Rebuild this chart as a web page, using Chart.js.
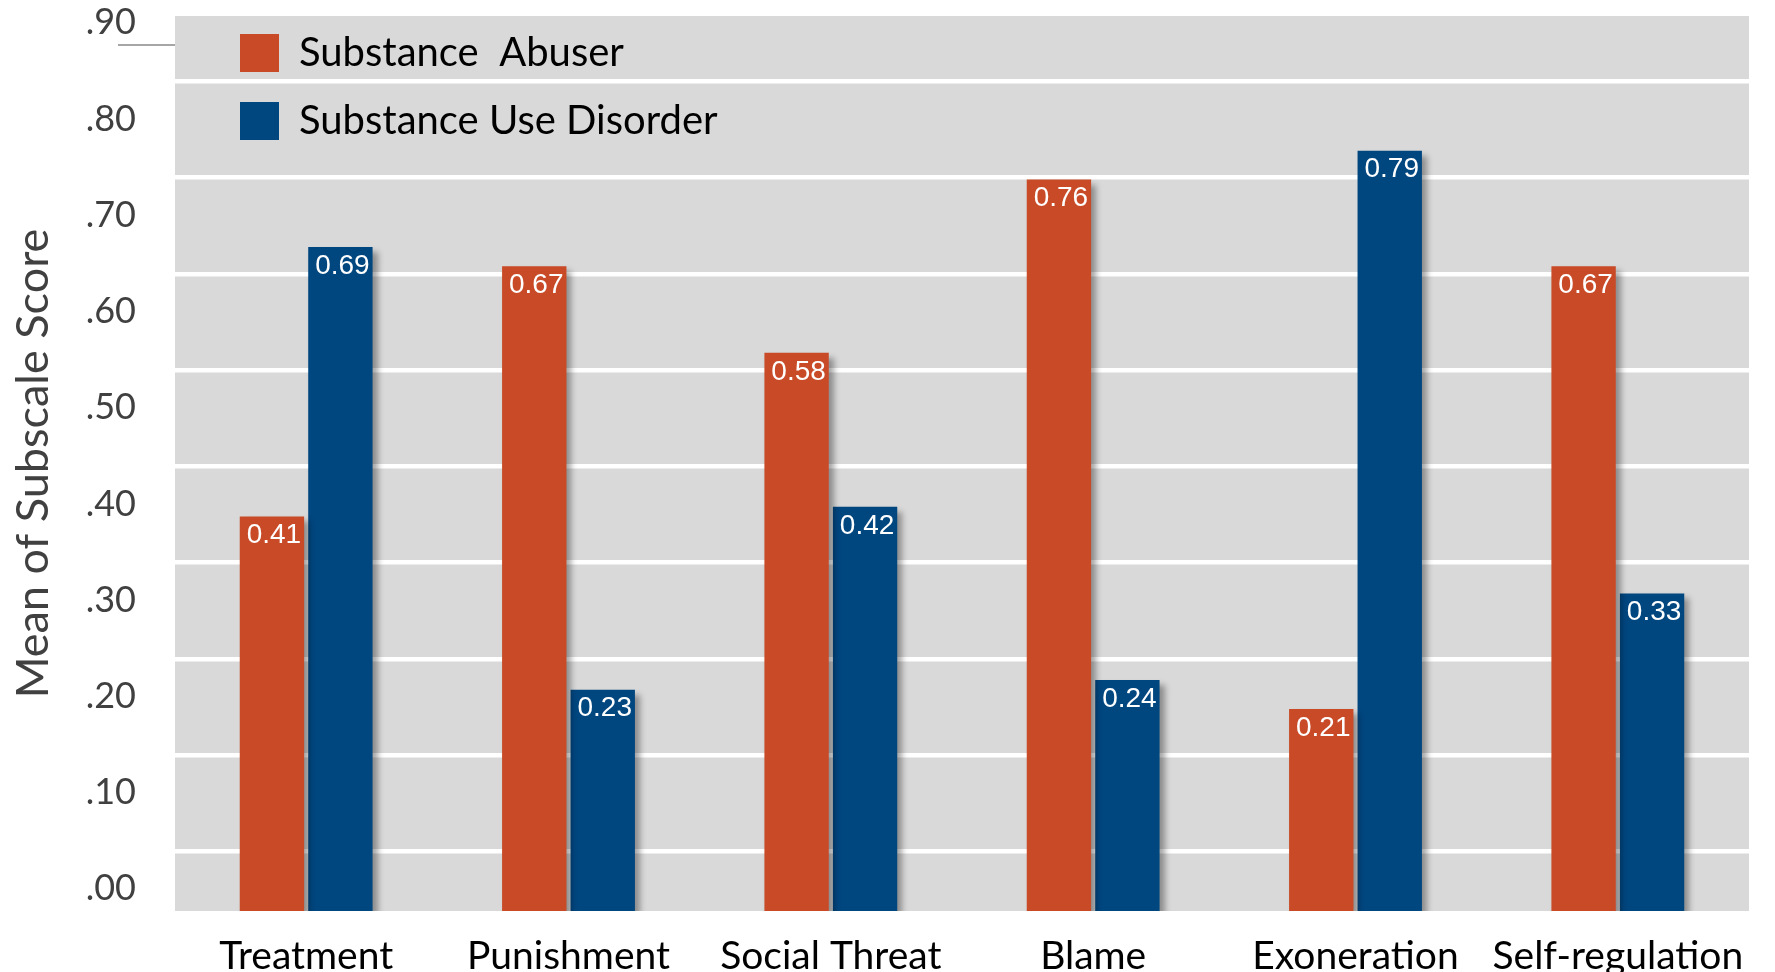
<!DOCTYPE html>
<html>
<head>
<meta charset="utf-8">
<script src="https://cdn.jsdelivr.net/npm/chart.js@4.4.1/dist/chart.umd.min.js"></script>
<style>
html, body { margin: 0; padding: 0; background: #fff; }
#wrap { width: 1775px; height: 972px; }
</style>
</head>
<body>
<div id="wrap"><canvas id="subscale-chart"></canvas></div>
<script>
const categories = [`Treatment`, `Punishment`, `Social Threat`, `Blame`, `Exoneration`, `Self-regulation`]
const abuser_values = [0.41, 0.67, 0.58, 0.76, 0.21, 0.67]
const disorder_values = [0.69, 0.23, 0.42, 0.24, 0.79, 0.33]
const tick_values = [0, 0.1, 0.2, 0.3, 0.4, 0.5, 0.6, 0.7, 0.8, 0.9]
const tick_labels = [`.00`, `.10`, `.20`, `.30`, `.40`, `.50`, `.60`, `.70`, `.80`, `.90`]
const grid_values = [0, 0.1, 0.2, 0.3, 0.4, 0.5, 0.6, 0.7, 0.8]
const top_mark = [0.9]

// the source picture has its labels and white lines shifted up from the bar scale
const y_max = 0.93
const label_shift = 0.023
const grid_shift = 0.062

Chart.defaults.font.family = `Lato, "Open Sans", sans-serif`

const plot_background = {
    id: `plotBackground`,
    beforeDraw: (chart) => {
        const { ctx, chartArea } = chart
        ctx.save()
        ctx.fillStyle = `#d9d9d9`
        ctx.fillRect(chartArea.left, chartArea.top, chartArea.right - chartArea.left, chartArea.bottom - chartArea.top)
        ctx.restore()
    }
}

// put the legend inside the plot, a little in from the corner
const legend_nudge = {
    id: `legendNudge`,
    afterLayout: (chart) => {
        chart.legend.left = chart.chartArea.left + 37
        chart.legend.top = chart.chartArea.top - 11
    }
}

const bar_shadow = {
    id: `barShadow`,
    beforeDatasetsDraw: (chart) => {
        const ctx = chart.ctx
        ctx.save()
        ctx.shadowColor = `rgba(0, 0, 0, 0.35)`
        ctx.shadowOffsetX = 5
        ctx.shadowOffsetY = 5
        ctx.shadowBlur = 6
    },
    afterDatasetsDraw: (chart) => {
        chart.ctx.restore()
    }
}

const bar_labels = {
    id: `barLabels`,
    afterDatasetsDraw: (chart) => {
        const ctx = chart.ctx
        ctx.save()
        ctx.fillStyle = `#ffffff`
        ctx.font = `28px "Liberation Sans", Arial, sans-serif`
        ctx.textAlign = `center`
        ctx.textBaseline = `middle`
        chart.data.datasets.forEach((ds, i) => {
            chart.getDatasetMeta(i).data.forEach((bar, j) => {
                ctx.fillText(ds.data[j].toFixed(2), bar.x + 2, bar.y + 19)
            })
        })
        ctx.restore()
    }
}

const no_side_padding = (scale) => {
    scale.paddingTop = 0
    scale.paddingBottom = 0
}

const chart_ctx = document.getElementById(`subscale-chart`).getContext(`2d`)
const chart = new Chart(chart_ctx, {
    type: `bar`,
    data: {
        labels: categories,
        datasets: [{
            label: `Substance  Abuser`,
            data: abuser_values,
            backgroundColor: `#c94a27`,
            categoryPercentage: 0.522,
            barPercentage: 0.94
        }, {
            label: `Substance Use Disorder`,
            data: disorder_values,
            backgroundColor: `#00467f`,
            categoryPercentage: 0.522,
            barPercentage: 0.94
        }]
    },
    options: {
        responsive: true,
        maintainAspectRatio: false,
        animation: false,
        layout: { autoPadding: false, padding: { top: 16, right: 26, left: 0, bottom: 0 } },
        plugins: {
            tooltip: { enabled: false },
            legend: {
                position: `chartArea`,
                fullSize: false,
                align: `start`,
                labels: {
                    boxWidth: 39,
                    boxHeight: 38,
                    padding: 28,
                    color: `#000000`,
                    font: { size: 40 }
                }
            }
        },
        scales: {
            x: {
                grid: { display: false },
                border: { display: false },
                ticks: { color: `#000000`, font: { size: 39 }, padding: 14, maxRotation: 0 },
                afterFit: (scale) => { scale.height = 61 }
            },
            y: {
                position: `left`,
                weight: -1,
                min: 0,
                max: y_max,
                afterBuildTicks: (scale) => { scale.ticks = top_mark.map(v => ({ value: v })) },
                ticks: { display: false },
                border: { display: false },
                grid: { drawOnChartArea: false, drawTicks: true, tickLength: 57, color: `#a6a6a6`, lineWidth: 2 },
                afterFit: (scale) => {
                    scale.width = 0
                    no_side_padding(scale)
                }
            },
            y_labels: {
                position: `left`,
                weight: 1,
                min: -label_shift,
                max: y_max - label_shift,
                grid: { display: false, drawTicks: false },
                border: { display: false },
                afterBuildTicks: (scale) => { scale.ticks = tick_values.map(v => ({ value: v })) },
                ticks: {
                    color: `#404040`,
                    font: { size: 36 },
                    padding: 39,
                    callback: (value, index) => tick_labels[index]
                },
                title: {
                    display: true,
                    text: `Mean of Subscale Score`,
                    color: `#404040`,
                    font: { size: 45 },
                    padding: { top: 6, bottom: 0 }
                },
                afterFit: (scale) => {
                    scale.width = 175
                    no_side_padding(scale)
                }
            },
            y_grid: {
                position: `left`,
                weight: 0,
                min: -grid_shift,
                max: y_max - grid_shift,
                afterBuildTicks: (scale) => { scale.ticks = grid_values.map(v => ({ value: v })) },
                ticks: { display: false },
                border: { display: false },
                grid: { color: `#ffffff`, lineWidth: 4.5, drawTicks: false },
                afterFit: (scale) => {
                    scale.width = 0
                    no_side_padding(scale)
                }
            }
        }
    },
    plugins: [plot_background, legend_nudge, bar_shadow, bar_labels]
})
</script>
</body>
</html>
